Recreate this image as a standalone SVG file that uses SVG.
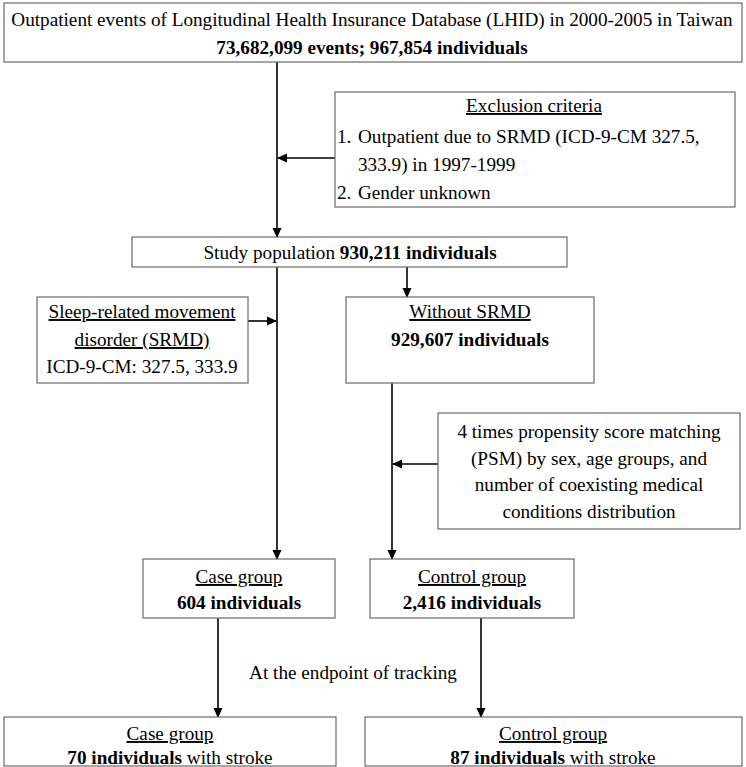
<svg xmlns="http://www.w3.org/2000/svg" width="746" height="767" viewBox="0 0 746 767" font-family="'Liberation Serif', 'Times New Roman', Times, 'DejaVu Serif', serif">
<defs>
<marker id="ah" markerWidth="10" markerHeight="10" refX="9" refY="5" orient="auto" markerUnits="userSpaceOnUse">
<path d="M0,0.5 L10,5 L0,9.5 Z" fill="#000"/>
</marker>
</defs>
<style>
.box{fill:#fff;stroke:#6a6a6a;stroke-width:1.2}
text{font-family:'Liberation Serif','Times New Roman',Times,'DejaVu Serif',serif;font-size:19.2px;fill:#000}
.c{text-anchor:middle}
.b{font-weight:bold}
.u{text-decoration:underline}
.la{fill:none;stroke:#000;stroke-width:1.6;marker-end:url(#ah)}
</style>
<rect width="746" height="767" fill="#fff"/>
<g id="connectors">
<line class="la" x1="277" y1="62" x2="277" y2="237"/>
<line class="la" x1="335" y1="158" x2="278" y2="158"/>
<line class="la" x1="277" y1="267" x2="277" y2="559"/>
<line class="la" x1="248" y1="321" x2="276" y2="321"/>
<line class="la" x1="407" y1="267" x2="407" y2="297"/>
<line class="la" x1="392" y1="383" x2="392" y2="559"/>
<line class="la" x1="438" y1="464" x2="393" y2="464"/>
<line class="la" x1="218" y1="618" x2="218" y2="717"/>
<line class="la" x1="481" y1="618" x2="481" y2="717"/>
</g>
<g id="source">
<rect class="box" x="4" y="3" width="738" height="59"/>
<text class="c" x="372" y="26">Outpatient events of Longitudinal Health Insurance Database (LHID) in 2000-2005 in Taiwan</text>
<text class="c b" x="372" y="54">73,682,099 events; 967,854 individuals</text>
</g>
<g id="exclusion">
<rect class="box" x="335" y="92" width="400" height="115"/>
<text class="c u" x="534" y="112">Exclusion criteria</text>
<text x="337" y="143">1.</text>
<text x="358" y="143">Outpatient due to SRMD (ICD-9-CM 327.5,</text>
<text x="358" y="171">333.9) in 1997-1999</text>
<text x="337" y="199">2.</text>
<text x="358" y="199">Gender unknown</text>
</g>
<g id="study">
<rect class="box" x="132" y="237" width="435" height="30"/>
<text class="c" x="350" y="259">Study population <tspan class="b">930,211 individuals</tspan></text>
</g>
<g id="srmd">
<rect class="box" x="37" y="297" width="211" height="86"/>
<text class="c u" x="142" y="318">Sleep-related movement </text>
<text class="c u" x="142" y="346">disorder (SRMD)</text>
<text class="c" x="142" y="373">ICD-9-CM: 327.5, 333.9</text>
</g>
<g id="without">
<rect class="box" x="346" y="297" width="248" height="86"/>
<text class="c u" x="470" y="318">Without SRMD</text>
<text class="c b" x="470" y="346">929,607 individuals</text>
</g>
<g id="psm">
<rect class="box" x="438" y="413" width="302" height="116"/>
<text class="c" x="589" y="438">4 times propensity score matching</text>
<text class="c" x="589" y="465">(PSM) by sex, age groups, and</text>
<text class="c" x="589" y="491">number of coexisting medical</text>
<text class="c" x="589" y="518">conditions distribution</text>
</g>
<g id="case">
<rect class="box" x="143" y="559" width="192" height="59"/>
<text class="c u" x="239" y="583">Case group</text>
<text class="c b" x="239" y="609">604 individuals</text>
</g>
<g id="control">
<rect class="box" x="370" y="559" width="204" height="59"/>
<text class="c u" x="472" y="583">Control group</text>
<text class="c b" x="472" y="609">2,416 individuals</text>
</g>
<g id="endpoint-label">
<text class="c" x="353" y="679">At the endpoint of tracking</text>
</g>
<g id="case-stroke">
<rect class="box" x="4" y="717" width="332" height="49"/>
<text class="c u" x="170" y="740">Case group</text>
<text class="c" x="170" y="764"><tspan class="b">70 individuals</tspan> with stroke</text>
</g>
<g id="control-stroke">
<rect class="box" x="365" y="717" width="377" height="49"/>
<text class="c u" x="553" y="740">Control group</text>
<text class="c" x="553" y="764"><tspan class="b">87 individuals</tspan> with stroke</text>
</g>
</svg>
